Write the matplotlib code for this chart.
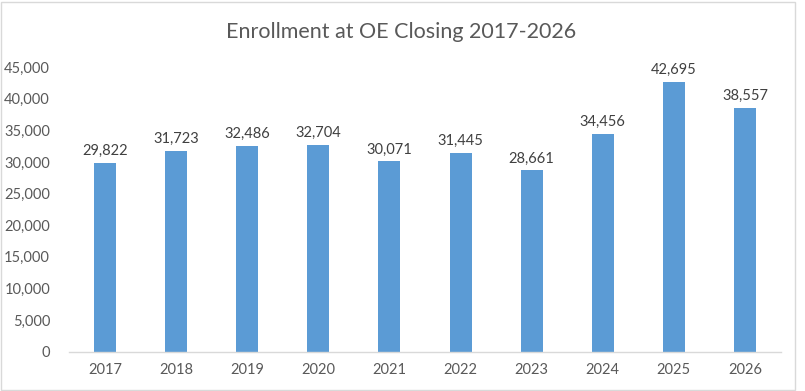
import matplotlib
matplotlib.use("Agg")
import matplotlib.pyplot as plt
from matplotlib.patches import Rectangle
from matplotlib.ticker import FuncFormatter

years = ["2017", "2018", "2019", "2020", "2021", "2022", "2023", "2024", "2025", "2026"]
enrollment = [29822, 31723, 32486, 32704, 30071, 31445, 28661, 34456, 42695, 38557]
y_ticks = [0, 5000, 10000, 15000, 20000, 25000, 30000, 35000, 40000, 45000]
title = "Enrollment at OE Closing 2017-2026"

plt.rcParams['font.family'] = ['Lato', 'DejaVu Sans']

fig = plt.figure(figsize=(8.05, 3.91), dpi=100)
ax = fig.add_axes([0.0863, 0.1005, 0.9696 - 0.0863, 0.8286 - 0.1005])

x = range(len(years))
ax.bar(x, enrollment, width=0.31, color="#5B9BD5", zorder=2)

for xi, v in zip(x, enrollment):
    ax.annotate(f"{v:,}", (xi, v), xytext=(0, 3.5), textcoords="offset points",
                ha="center", va="bottom", fontsize=10.5, color="#404040")

ax.set_xlim(-0.5, len(years) - 0.5)
ax.set_ylim(0, 45000)
ax.set_yticks(y_ticks)
ax.yaxis.set_major_formatter(FuncFormatter(lambda v, p: f"{int(v):,}"))
ax.set_xticks(list(x))
ax.set_xticklabels(years)

for s in ["top", "right", "left"]:
    ax.spines[s].set_visible(False)
ax.spines["bottom"].set_color("#D9D9D9")
ax.spines["bottom"].set_linewidth(1.0)

ax.tick_params(axis="both", length=0, labelsize=10.5, colors="#595959")
ax.tick_params(axis="y", pad=14)
ax.tick_params(axis="x", pad=8)

fig.text(0.4985, 0.918, title, ha="center", va="center", fontsize=15.5, color="#595959")

fig.patches.append(Rectangle((0.001, 0.003), 0.986, 0.992, transform=fig.transFigure,
                             fill=False, edgecolor="#D9D9D9", linewidth=1.0))

fig.savefig("out.png", dpi=100)
